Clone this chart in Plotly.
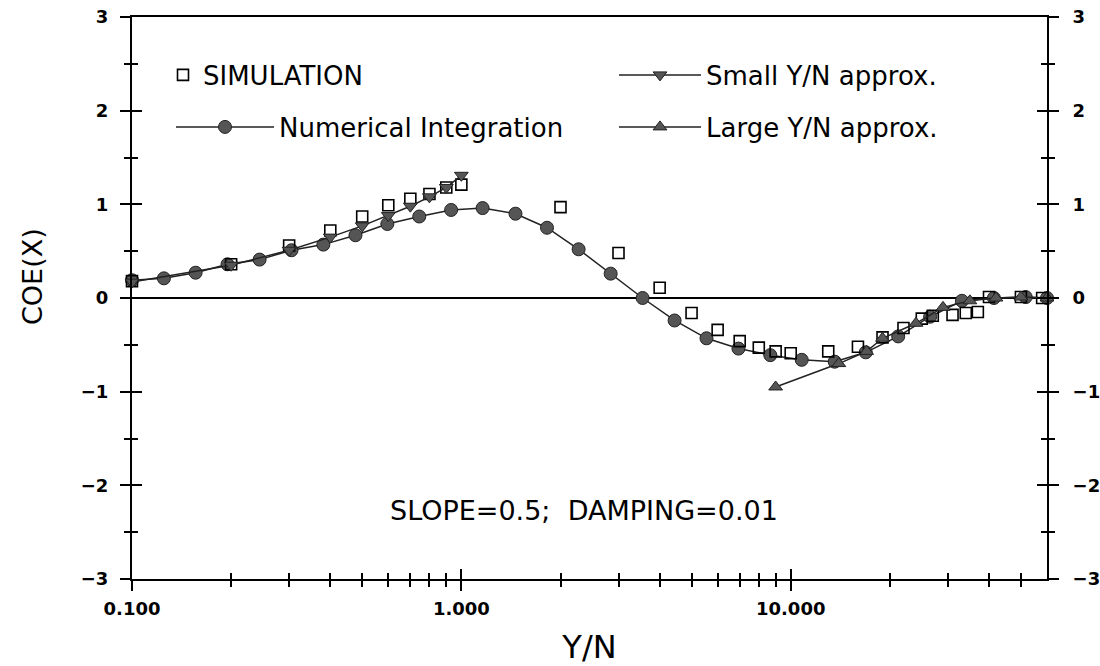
import math
import plotly.graph_objects as go

# ---------------- data ----------------
num_x = [0.1, 0.125, 0.156, 0.195, 0.244, 0.305, 0.381, 0.477, 0.596, 0.745,
         0.931, 1.16, 1.46, 1.82, 2.27, 2.84, 3.55, 4.44, 5.55, 6.94,
         8.67, 10.8, 13.6, 16.9, 21.2, 26.5, 33.1, 41.4, 51.7, 60.0]
num_y = [0.19, 0.21, 0.27, 0.36, 0.41, 0.51, 0.57, 0.67, 0.79, 0.87,
         0.94, 0.96, 0.90, 0.75, 0.52, 0.26, 0.0, -0.24, -0.43, -0.54,
         -0.61, -0.66, -0.68, -0.58, -0.41, -0.20, -0.03, 0.0, 0.01, 0.0]

sim_x = [0.1, 0.2, 0.3, 0.4, 0.5, 0.6, 0.7, 0.8, 0.9, 1.0,
         2, 3, 4, 5, 6, 7, 8, 9, 10, 13,
         16, 19, 22, 25, 27, 31, 34, 37, 40, 50, 58]
sim_y = [0.18, 0.36, 0.56, 0.72, 0.87, 0.99, 1.06, 1.11, 1.18, 1.21,
         0.97, 0.48, 0.11, -0.16, -0.34, -0.46, -0.53, -0.57, -0.59, -0.57,
         -0.52, -0.42, -0.32, -0.22, -0.19, -0.18, -0.16, -0.15, 0.01, 0.01, 0.0]

small_x = [0.1, 0.2, 0.3, 0.4, 0.5, 0.6, 0.7, 0.8, 0.9, 1.0]
small_y = [0.17, 0.35, 0.51, 0.65, 0.77, 0.88, 0.98, 1.08, 1.18, 1.31]

large_x = [9, 14, 17, 19, 24, 29, 35, 42, 50, 60]
large_y = [-0.95, -0.70, -0.57, -0.43, -0.27, -0.10, -0.03, 0.0, 0.01, 0.0]

x_major = [0.1, 1, 10]
x_major_text = ["0.100", "1.000", "10.000"]
x_minor = [0.2, 0.3, 0.4, 0.5, 0.6, 0.7, 0.8, 0.9,
           2, 3, 4, 5, 6, 7, 8, 9, 20, 30, 40, 50]
y_major = [-3, -2, -1, 0, 1, 2, 3]
y_major_text = ["\u22123", "\u22122", "\u22121", "0", "1", "2", "3"]
y_minor = [-2.5, -1.5, -0.5, 0.5, 1.5, 2.5]
x_range = [0.1, 60]
y_range = [-3, 3]

FONT = "DejaVu Sans"
MARK = "#555555"
EDGE = "#222222"
INK = "black"

fig = go.Figure()

# main subplot (x / y)
fig.add_trace(go.Scatter(
    x=num_x, y=num_y, mode="lines+markers", name="Numerical Integration",
    xaxis="x", yaxis="y",
    line=dict(color=EDGE, width=1.5),
    marker=dict(symbol="circle", size=13, color=MARK, line=dict(color=EDGE, width=1)),
    legend="legend2", cliponaxis=False))
# right labelled axis (x / y2)
fig.add_trace(go.Scatter(
    x=sim_x, y=sim_y, mode="markers", name="SIMULATION",
    xaxis="x", yaxis="y2",
    marker=dict(symbol="square-open", size=11, color=INK, line=dict(width=1.6)),
    legend="legend", cliponaxis=False))
# inner tick axes (x2 / y3)
fig.add_trace(go.Scatter(
    x=small_x, y=small_y, mode="lines+markers", name="Small Y/N approx.",
    xaxis="x2", yaxis="y3",
    line=dict(color=EDGE, width=1.5),
    marker=dict(symbol="triangle-down", size=12, color=MARK, line=dict(color=EDGE, width=1)),
    legend="legend3", cliponaxis=False))
# right inner ticks (x / y4)
fig.add_trace(go.Scatter(
    x=large_x, y=large_y, mode="lines+markers", name="Large Y/N approx.",
    xaxis="x", yaxis="y4",
    line=dict(color=EDGE, width=1.5),
    marker=dict(symbol="triangle-up", size=12, color=MARK, line=dict(color=EDGE, width=1)),
    legend="legend4", cliponaxis=False))

xr = [math.log10(v) for v in x_range]
tf = dict(family=FONT, size=18, color=INK, weight="bold")

common_x = dict(type="log", range=xr, showgrid=False, zeroline=False, automargin=False,
                tickmode="array", tickvals=x_major, tickcolor=INK, tickwidth=1.5)
fig.update_layout(
    xaxis=dict(**common_x, ticktext=x_major_text, ticks="outside", ticklen=10,
               showline=True, linecolor=INK, linewidth=2, mirror=True,
               tickfont=tf, ticklabelstandoff=2,
               minor=dict(tickmode="array", tickvals=x_minor, ticks="outside",
                          ticklen=6, tickwidth=1.5, tickcolor=INK, showgrid=False),
               title=dict(text="Y/N", font=dict(family=FONT, size=32, color=INK), standoff=19)),
    xaxis2=dict(**common_x, overlaying="x", anchor="y", side="bottom",
                ticks="inside", ticklen=10, showticklabels=False, showline=False,
                minor=dict(tickmode="array", tickvals=x_minor, ticks="inside",
                           ticklen=6, tickwidth=1.5, tickcolor=INK, showgrid=False)),
)

common_y = dict(range=y_range, showgrid=False, tickmode="array", tickvals=y_major,
                tickcolor=INK, tickwidth=1.5, automargin=False)
minor_y_out = dict(tickmode="array", tickvals=y_minor, ticks="outside", ticklen=6,
                   tickwidth=1.5, tickcolor=INK, showgrid=False)
minor_y_in = dict(tickmode="array", tickvals=y_minor, ticks="inside", ticklen=6,
                  tickwidth=1.5, tickcolor=INK, showgrid=False)
fig.update_layout(
    yaxis=dict(**common_y, ticktext=y_major_text, ticks="outside", ticklen=10,
               showline=True, linecolor=INK, linewidth=2,
               zeroline=True, zerolinecolor=INK, zerolinewidth=1.5,
               tickfont=tf, ticklabelstandoff=8, minor=minor_y_out),
    yaxis3=dict(**common_y, overlaying="y", anchor="x", side="left", ticks="inside",
                ticklen=10, showticklabels=False, zeroline=False, minor=minor_y_in),
    yaxis2=dict(**common_y, ticktext=y_major_text, overlaying="y", anchor="x", side="right",
                ticks="outside", ticklen=10, showline=True, linecolor=INK, linewidth=2,
                zeroline=False, tickfont=tf, ticklabelstandoff=10, minor=minor_y_out),
    yaxis4=dict(**common_y, overlaying="y", anchor="x", side="right", ticks="inside",
                ticklen=10, showticklabels=False, zeroline=False, minor=minor_y_in),
)

# plot area in px: x 132..1047, y 17..579
def px_x(p):
    return (p - 132) / 915.0

def px_y(p):
    return (579 - p) / 562.0

leg_font = dict(family=FONT, size=26, color=INK)
fig.update_layout(
    legend=dict(x=px_x(163), y=px_y(75), xanchor="left", yanchor="middle",
                bgcolor="rgba(0,0,0,0)", font=leg_font, itemwidth=30),
    legend2=dict(x=px_x(171), y=px_y(127), xanchor="left", yanchor="middle",
                 bgcolor="rgba(0,0,0,0)", font=leg_font, itemwidth=98),
    legend3=dict(x=px_x(614), y=px_y(75), xanchor="left", yanchor="middle",
                 bgcolor="rgba(0,0,0,0)", font=leg_font, itemwidth=82),
    legend4=dict(x=px_x(614), y=px_y(127), xanchor="left", yanchor="middle",
                 bgcolor="rgba(0,0,0,0)", font=leg_font, itemwidth=82),
)

fig.add_annotation(text="SLOPE=0.5;\u00a0 DAMPING=0.01", xref="paper", yref="paper",
                   x=px_x(584), y=px_y(511), xanchor="center", yanchor="middle",
                   showarrow=False, font=dict(family=FONT, size=27, color=INK))
fig.add_annotation(text="COE(X)", xref="paper", yref="paper", textangle=-90,
                   x=px_x(32), y=px_y(277), xanchor="center", yanchor="middle",
                   showarrow=False, font=dict(family=FONT, size=27, color=INK))

fig.update_layout(
    width=1100, height=666, autosize=False,
    margin=dict(l=132, r=53, t=17, b=87, pad=0, autoexpand=False),
    paper_bgcolor="white", plot_bgcolor="white",
    font=dict(family=FONT, color=INK),
    showlegend=True,
)

fig.write_html("out.html", config={"displayModeBar": False},
               post_script="document.body.style.margin='0px';document.body.style.overflow='hidden';")
